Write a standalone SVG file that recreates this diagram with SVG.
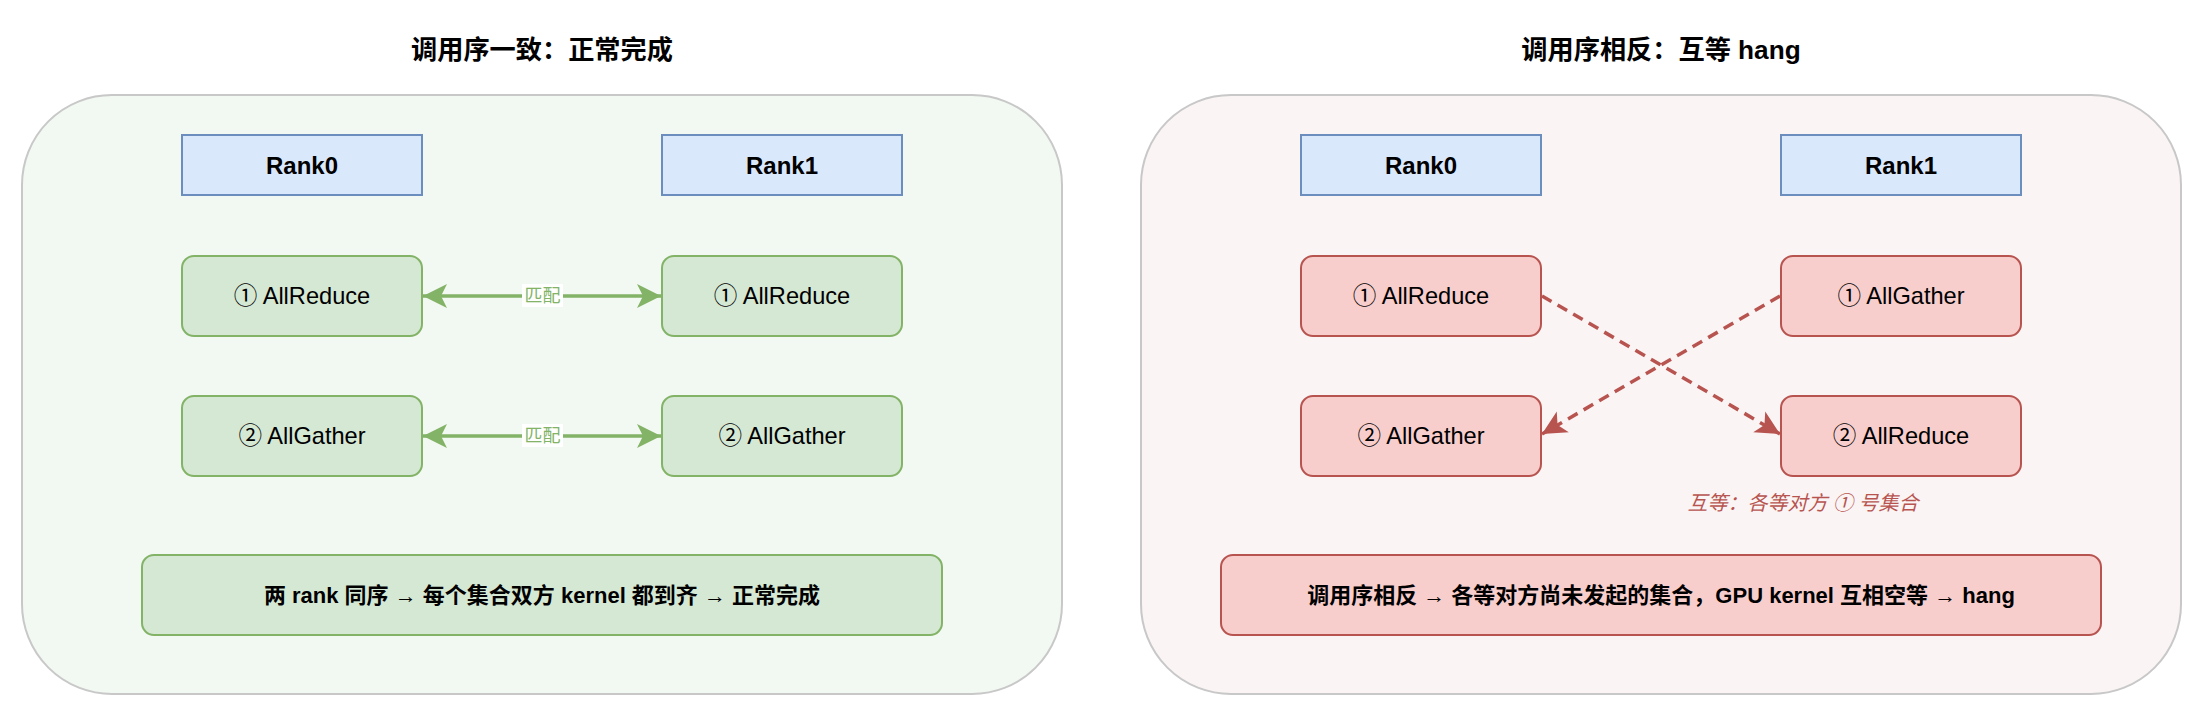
<svg xmlns="http://www.w3.org/2000/svg" width="2195" height="709" viewBox="0 0 2195 709">
<style>
text{font-family:"Liberation Sans","Noto Sans CJK SC",sans-serif;text-anchor:middle;dominant-baseline:central;fill:#000}
.title{font-size:26.2px;font-weight:bold}
.rank{fill:#dae8fc;stroke:#6c8ebf;stroke-width:2}
.ok{fill:#d5e8d4;stroke:#82b366;stroke-width:2}
.bad{fill:#f8cecc;stroke:#b85450;stroke-width:2}
.lbl{font-size:23.6px}
.bold{font-weight:bold;font-size:24px}
.sum{font-size:22px;font-weight:bold}
.match{font-size:18px;fill:#82b366}
.note{font-size:20px;font-style:italic;fill:#b85450}
.gline{stroke:#82b366;stroke-width:3.5;fill:none}
.rline{stroke:#b85450;stroke-width:3.5;fill:none;stroke-dasharray:11 7}
</style>
<defs>
<marker id="ga" viewBox="-26 -14 28 28" refX="0" refY="0" markerWidth="28" markerHeight="28" markerUnits="userSpaceOnUse" orient="auto-start-reverse"><path d="M0,0 L-24,-12 L-18,0 L-24,12 Z" fill="#82b366"/></marker>
<marker id="ra" viewBox="-26 -14 28 28" refX="0" refY="0" markerWidth="28" markerHeight="28" markerUnits="userSpaceOnUse" orient="auto"><path d="M0,0 L-24,-12 L-18,0 L-24,12 Z" fill="#b85450"/></marker>
</defs>
<g id="panel-left">
<rect x="22" y="95" width="1040" height="599" rx="90" ry="90" fill="#f2f8f2" stroke="#c8c8c8" stroke-width="2"/>
<text class="title" x="542" y="50">调用序一致：正常完成</text>
</g>
<g id="panel-right">
<rect x="1141" y="95" width="1040" height="599" rx="90" ry="90" fill="#faf4f4" stroke="#c8c8c8" stroke-width="2"/>
<text class="title" x="1661" y="50">调用序相反：互等 hang</text>
</g>
<g id="l-rank0"><rect class="rank" x="182" y="135" width="240" height="60"/><text class="lbl bold" x="302" y="165">Rank0</text></g>
<g id="l-rank1"><rect class="rank" x="662" y="135" width="240" height="60"/><text class="lbl bold" x="782" y="165">Rank1</text></g>
<g id="l-r0-1"><rect class="ok" x="182" y="256" width="240" height="80" rx="12"/><text class="lbl" x="302" y="296">① AllReduce</text></g>
<g id="l-r1-1"><rect class="ok" x="662" y="256" width="240" height="80" rx="12"/><text class="lbl" x="782" y="296">① AllReduce</text></g>
<g id="l-r0-2"><rect class="ok" x="182" y="396" width="240" height="80" rx="12"/><text class="lbl" x="302" y="436">② AllGather</text></g>
<g id="l-r1-2"><rect class="ok" x="662" y="396" width="240" height="80" rx="12"/><text class="lbl" x="782" y="436">② AllGather</text></g>
<g id="l-sum"><rect class="ok" x="142" y="555" width="800" height="80" rx="12"/><text class="sum" x="542" y="595">两 rank 同序 → 每个集合双方 kernel 都到齐 → 正常完成</text></g>
<g id="r-rank0"><rect class="rank" x="1301" y="135" width="240" height="60"/><text class="lbl bold" x="1421" y="165">Rank0</text></g>
<g id="r-rank1"><rect class="rank" x="1781" y="135" width="240" height="60"/><text class="lbl bold" x="1901" y="165">Rank1</text></g>
<g id="r-r0-1"><rect class="bad" x="1301" y="256" width="240" height="80" rx="12"/><text class="lbl" x="1421" y="296">① AllReduce</text></g>
<g id="r-r1-1"><rect class="bad" x="1781" y="256" width="240" height="80" rx="12"/><text class="lbl" x="1901" y="296">① AllGather</text></g>
<g id="r-r0-2"><rect class="bad" x="1301" y="396" width="240" height="80" rx="12"/><text class="lbl" x="1421" y="436">② AllGather</text></g>
<g id="r-r1-2"><rect class="bad" x="1781" y="396" width="240" height="80" rx="12"/><text class="lbl" x="1901" y="436">② AllReduce</text></g>
<g id="r-sum"><rect class="bad" x="1221" y="555" width="880" height="80" rx="12"/><text class="sum" x="1661" y="595">调用序相反 → 各等对方尚未发起的集合，GPU kernel 互相空等 → hang</text></g>
<g id="connectors">
<line class="gline" x1="423" y1="296" x2="661" y2="296" marker-start="url(#ga)" marker-end="url(#ga)"/>
<rect x="522" y="284" width="41" height="23" fill="#ffffff"/>
<text class="match" x="542.5" y="296">匹配</text>
<line class="gline" x1="423" y1="436" x2="661" y2="436" marker-start="url(#ga)" marker-end="url(#ga)"/>
<rect x="522" y="424" width="41" height="23" fill="#ffffff"/>
<text class="match" x="542.5" y="436">匹配</text>
<line class="rline" x1="1542" y1="296" x2="1780" y2="434" marker-end="url(#ra)"/>
<line class="rline" x1="1780" y1="296" x2="1542" y2="434" marker-end="url(#ra)"/>
<text class="note" x="1803" y="503">互等：各等对方 ① 号集合</text>
</g>
</svg>
